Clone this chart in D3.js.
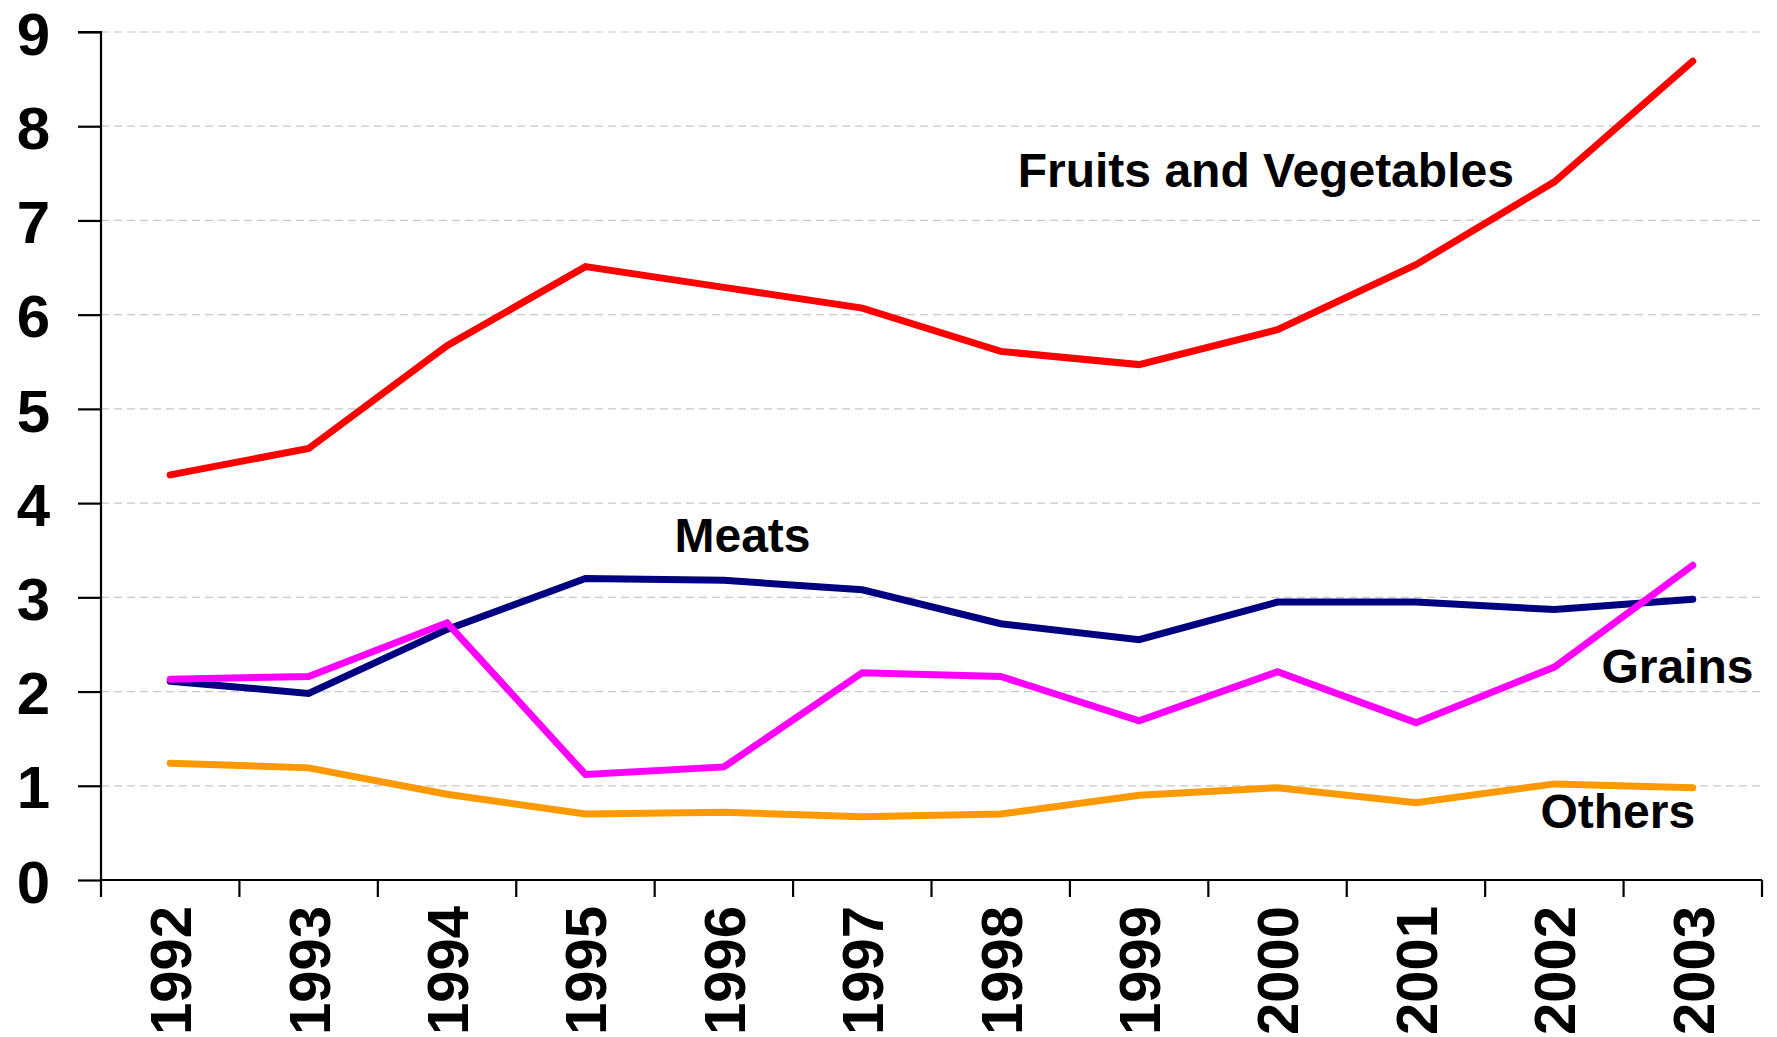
<!DOCTYPE html>
<html>
<head>
<meta charset="utf-8">
<script src="https://cdn.jsdelivr.net/npm/d3@7"></script>
<style>
  html, body { margin: 0; padding: 0; background: #fff; }
  svg { display: block; }
  text { font-family: Arial, "Liberation Sans", sans-serif; font-weight: bold; fill: #000; }
</style>
</head>
<body>
<svg id="chart" width="1777" height="1037"></svg>
<script>
const years = ["1992","1993","1994","1995","1996","1997","1998","1999","2000","2001","2002","2003"];
const yTicks = [0,1,2,3,4,5,6,7,8,9];

const fruitsVeg = [4.30, 4.58, 5.67, 6.51, 6.29, 6.07, 5.61, 5.47, 5.84, 6.53, 7.41, 8.69];
const meats     = [2.11, 1.98, 2.66, 3.20, 3.18, 3.08, 2.72, 2.55, 2.95, 2.95, 2.87, 2.98];
const grains    = [2.13, 2.16, 2.73, 1.12, 1.20, 2.20, 2.16, 1.69, 2.21, 1.67, 2.26, 3.34];
const others    = [1.24, 1.19, 0.91, 0.70, 0.72, 0.67, 0.70, 0.90, 0.98, 0.82, 1.02, 0.98];

const seriesNames  = ["Fruits and Vegetables", "Meats", "Grains", "Others"];
const seriesValues = [fruitsVeg, meats, grains, others];
const seriesColors = ["#FF0000", "#000080", "#FF00FF", "#FF9900"];

// label anchors in data space: category, value, pixel nudge
const labelYears  = ["1998", "1995", "2002", "2002"];
const labelValues = [7.355, 3.48, 2.09, 0.55];
const labelDx     = [17, 89, 47, -14];

const svg = d3.select("#chart");
const m = { left: 101, right: 15, top: 32, bottom: 157 };
const W = 1777, H = 1037;

const x = d3.scaleBand().domain(years).range([m.left, W - m.right]).padding(0);
const y = d3.scaleLinear().domain([0, 9]).range([H - m.bottom, m.top]);

// gridlines
svg.append("g")
  .selectAll("line")
  .data(yTicks.filter(d => d > 0))
  .join("line")
  .attr("x1", m.left).attr("x2", W - m.right)
  .attr("y1", d => y(d)).attr("y2", d => y(d))
  .attr("stroke", "#c8c8c8").attr("stroke-width", 1.2)
  .attr("stroke-dasharray", "8,5");

// y axis
const yAxis = svg.append("g")
  .attr("transform", `translate(${m.left},0)`)
  .call(d3.axisLeft(y).tickValues(yTicks).tickSize(23).tickPadding(28).tickFormat(d3.format("d")));
yAxis.select(".domain").attr("stroke", "#000").attr("stroke-width", 2.2).attr("d", `M-23,${y(9)}H0V${y(0)}`);
yAxis.selectAll(".tick line").attr("stroke", "#000").attr("stroke-width", 2.2);
yAxis.selectAll(".tick text")
  .attr("font-size", 60).attr("font-family", "Arial, 'Liberation Sans', sans-serif")
  .attr("font-weight", "bold").attr("fill", "#000").attr("dy", "0.37em");

// x axis
const xAxis = svg.append("g")
  .attr("transform", `translate(0,${y(0)})`)
  .call(d3.axisBottom(x).tickSize(0).tickFormat(d => d));
xAxis.select(".domain").attr("stroke", "#000").attr("stroke-width", 2.2).attr("d", `M${m.left},0H${W - m.right}`);
// boundary ticks
const bounds = years.map(d => x(d)).concat([x(years[years.length - 1]) + x.bandwidth()]);
xAxis.append("g").selectAll("line").data(bounds).join("line")
  .attr("x1", d => d).attr("x2", d => d).attr("y1", 0).attr("y2", 17)
  .attr("stroke", "#000").attr("stroke-width", 2.2);
xAxis.selectAll(".tick text")
  .attr("font-size", 58).attr("font-family", "Arial, 'Liberation Sans', sans-serif")
  .attr("font-weight", "bold").attr("fill", "#000")
  .attr("text-anchor", "end")
  .attr("x", 0).attr("y", 0).attr("dy", "0.36em")
  .attr("transform", "translate(0,26) rotate(-90)");

// lines
const line = d3.line()
  .x((d, i) => x(years[i]) + x.bandwidth() / 2)
  .y(d => y(d));

svg.append("g").selectAll("path")
  .data(seriesValues)
  .join("path")
  .attr("d", d => line(d))
  .attr("fill", "none")
  .attr("stroke", (d, i) => seriesColors[i])
  .attr("stroke-width", 7)
  .attr("stroke-linecap", "round")
  .attr("stroke-linejoin", "miter");

// series labels
svg.append("g").selectAll("text")
  .data(seriesNames)
  .join("text")
  .attr("x", (d, i) => x(labelYears[i]) + x.bandwidth() / 2 + labelDx[i])
  .attr("y", (d, i) => y(labelValues[i]))
  .attr("font-size", 48)
  .text(d => d);
</script>
</body>
</html>
